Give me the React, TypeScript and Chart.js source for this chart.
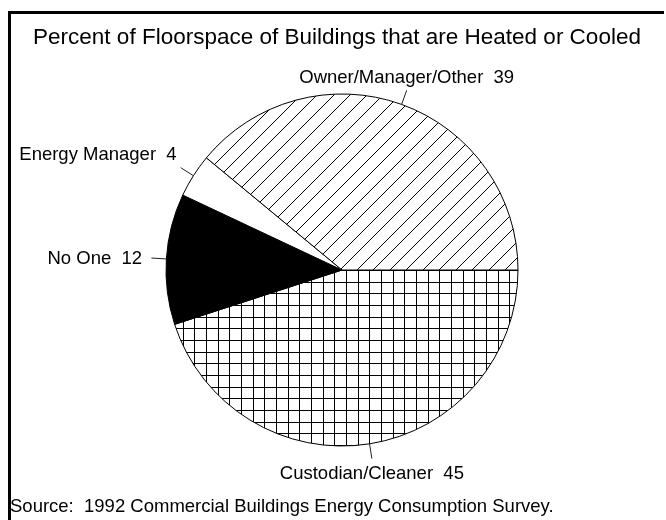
import React, { useEffect, useRef } from "react";
import { Chart, registerables } from "chart.js";

Chart.register(...registerables);

const chartTitle = "Percent of Floorspace of Buildings that are Heated or Cooled";
const sourceNote = "Source:  1992 Commercial Buildings Energy Consumption Survey.";
const categories = ["Custodian/Cleaner", "No One", "Energy Manager", "Owner/Manager/Other"];
const percents = [45, 12, 4, 39];

const FONT = '"Liberation Sans", Arial, sans-serif';

function makeGridPattern(ctx: CanvasRenderingContext2D) {
  const c = document.createElement("canvas");
  c.width = 35;
  c.height = 35;
  const g = c.getContext("2d")!;
  g.fillStyle = "#fff";
  g.fillRect(0, 0, 35, 35);
  g.fillStyle = "#000";
  for (const p of [0, 12, 23]) {
    g.fillRect(p, 0, 1, 35);
    g.fillRect(0, p, 35, 1);
  }
  const pat = ctx.createPattern(c, "repeat")!;
  try {
    pat.setTransform(new DOMMatrix().translate(31, 25));
  } catch (e) {}
  return pat;
}

function makeHatchPattern(ctx: CanvasRenderingContext2D) {
  const s = 33;
  const c = document.createElement("canvas");
  c.width = s;
  c.height = s;
  const g = c.getContext("2d")!;
  g.fillStyle = "#fff";
  g.fillRect(0, 0, s, s);
  g.fillStyle = "#000";
  for (let x = 0; x < s; x++) {
    g.fillRect(x, (s - 1 - x + s) % s, 1, 1);
    g.fillRect(x, (s - 1 - x + 16 + s) % s, 1, 1);
  }
  return ctx.createPattern(c, "repeat")!;
}

const decorPlugin = {
  id: "decor",
  afterDraw(chart: any) {
    const ctx: CanvasRenderingContext2D = chart.ctx;
    ctx.save();
    ctx.fillStyle = "#000";
    ctx.fillRect(8, 11, 3, 509);
    ctx.fillRect(8, 11, 656, 3);
    ctx.font = `22.5px ${FONT}`;
    ctx.textAlign = "center";
    ctx.textBaseline = "alphabetic";
    ctx.fillText(chartTitle, 337, 44);
    ctx.font = `18.5px ${FONT}`;
    ctx.textAlign = "left";
    ctx.fillText(sourceNote, 10, 512);
    const meta = chart.getDatasetMeta(0);
    meta.data.forEach((arc: any, i: number) => {
      const { startAngle, endAngle, outerRadius, x, y } = arc.getProps(
        ["startAngle", "endAngle", "outerRadius", "x", "y"],
        true
      );
      const mid = (startAngle + endAngle) / 2;
      const cx = Math.cos(mid);
      const sy = Math.sin(mid);
      const p1x = x + outerRadius * cx;
      const p1y = y + outerRadius * sy;
      const p2x = x + (outerRadius + 15) * cx;
      const p2y = y + (outerRadius + 15) * sy;
      ctx.strokeStyle = "#222";
      ctx.lineWidth = 1;
      ctx.beginPath();
      ctx.moveTo(p1x, p1y);
      ctx.lineTo(p2x, p2y);
      ctx.stroke();
      ctx.fillStyle = "#000";
      ctx.font = `18.5px ${FONT}`;
      ctx.textBaseline = "alphabetic";
      const text = `${categories[i]}  ${percents[i]}`;
      if (Math.abs(cx) > 0.7) {
        const dx = 10 - 11 * Math.abs(sy);
        ctx.textAlign = cx < 0 ? "right" : "left";
        ctx.fillText(text, p2x + (cx < 0 ? -dx : dx), p2y + 7.5 + sy * 28);
      } else {
        ctx.textAlign = "center";
        ctx.fillText(text, p2x, sy < 0 ? p2y - 7 : p2y + 20);
      }
    });
    ctx.restore();
  },
};

export default function App() {
  const ref = useRef<HTMLCanvasElement>(null);
  useEffect(() => {
    document.body.style.margin = "0";
    const canvas = ref.current!;
    const ctx = canvas.getContext("2d")!;
    const grid = makeGridPattern(ctx);
    const hatch = makeHatchPattern(ctx);
    const chart = new Chart(canvas, {
      type: "pie",
      data: {
        labels: categories,
        datasets: [
          {
            data: percents,
            backgroundColor: [grid, "#000", "#fff", hatch] as any,
            borderColor: "#000",
            borderWidth: 1,
          },
        ],
      },
      options: {
        responsive: false,
        animation: false,
        events: [],
        rotation: 90,
        radius: 176,
        layout: { padding: { left: 166, right: 148, top: 94, bottom: 74 } },
        plugins: {
          legend: { display: false },
          title: { display: false },
          tooltip: { enabled: false },
        },
      } as any,
      plugins: [decorPlugin],
    });
    return () => chart.destroy();
  }, []);
  return (
    <div style={{ width: 666, height: 520, background: "#fff" }}>
      <canvas ref={ref} width={666} height={520} style={{ display: "block" }} />
    </div>
  );
}
